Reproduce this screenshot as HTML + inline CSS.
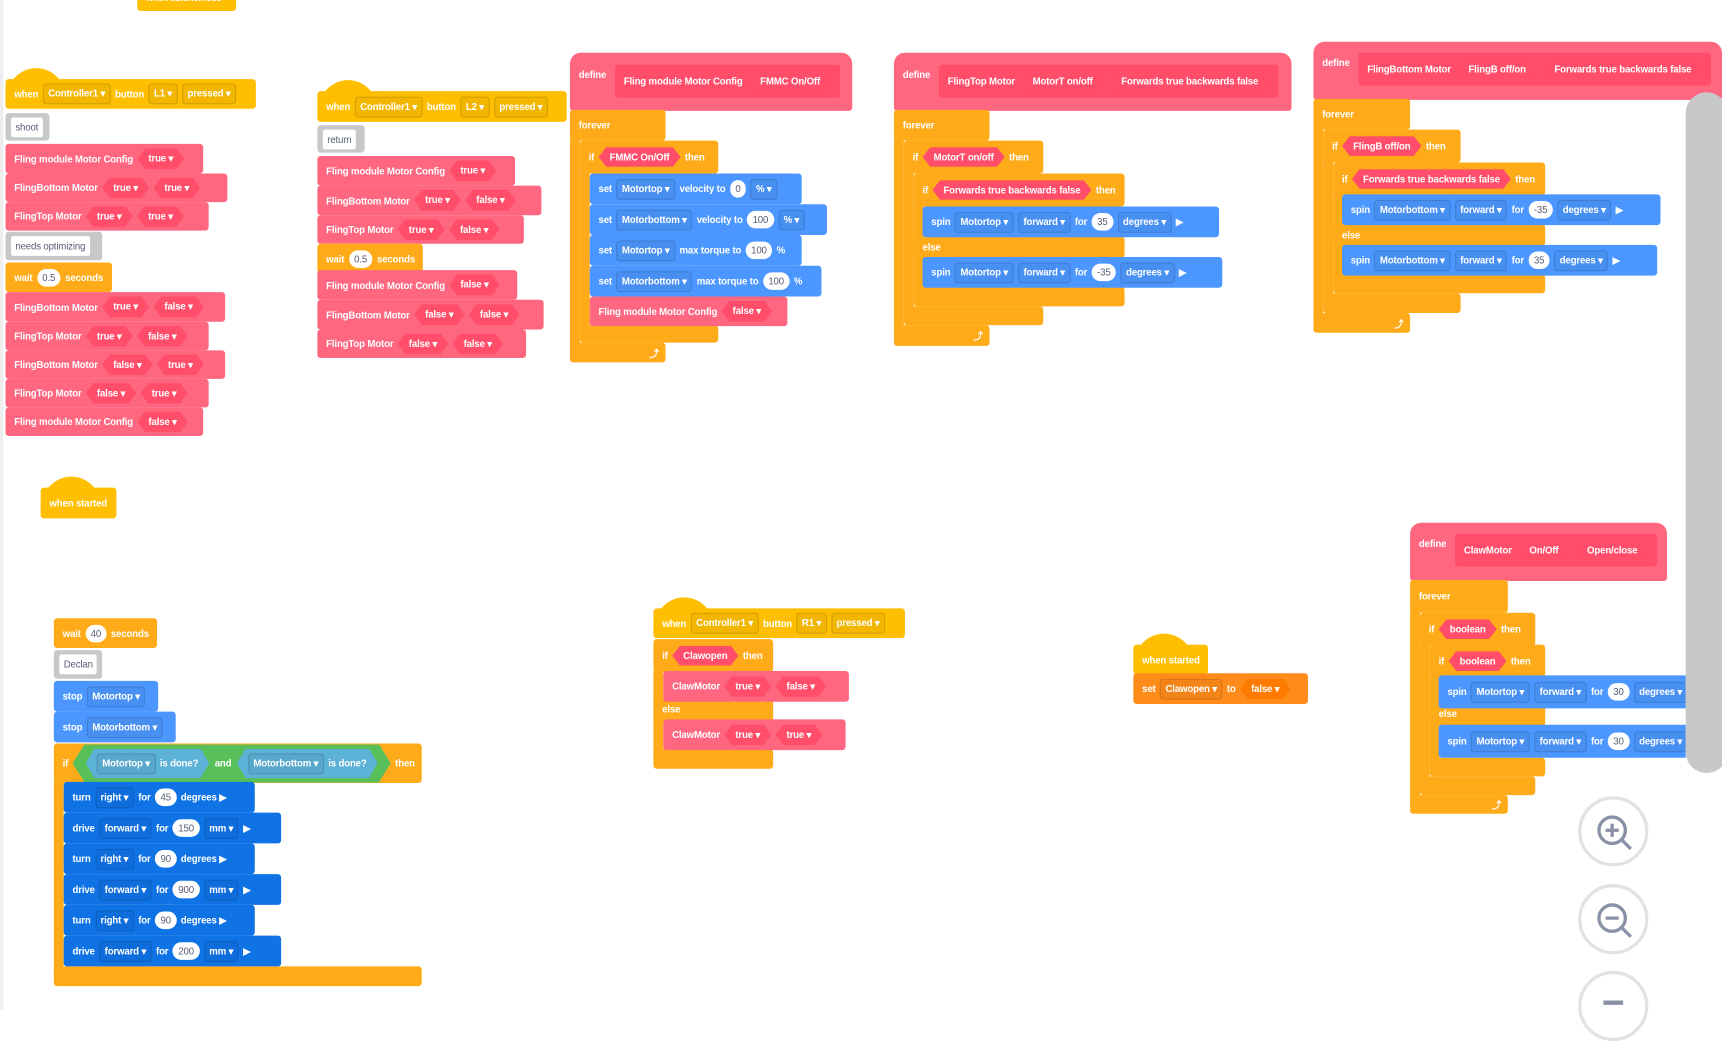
<!DOCTYPE html>
<html><head><meta charset="utf-8"><style>
html,body{margin:0;padding:0;background:#fff;overflow:hidden}
#w{position:absolute;left:0;top:0;width:1568px;height:920px;transform:scale(1.0982);transform-origin:0 0}
.b{position:absolute;display:flex;align-items:center;gap:4px;padding-left:8px;box-sizing:border-box;color:#fff;font:bold 8.8px "Liberation Sans",sans-serif;letter-spacing:-0.15px;white-space:nowrap;border-radius:3px}
.clip{overflow:hidden}
.p{background:#ff6680}.y{background:#ffbf00}.o{background:#ffab19}.bl{background:#4c97ff}.db{background:#0f73e6}.g{background:#c8c8c8}.v{background:#ff8c1a}
.dd{padding:3px 4px;border-radius:3px;border:1px solid rgba(0,0,0,.13);background:rgba(0,0,0,.05)}
.dd:after{content:" \25BE"}
.hx{padding:4px 10px;background:#ff4d6a;clip-path:polygon(7px 0,calc(100% - 7px) 0,100% 50%,calc(100% - 7px) 100%,7px 100%,0 50%)}
.hx.d:after{content:" \25BE"}
.num{background:#fff;color:#575e75;border-radius:10px;padding:3px 5px;font-weight:normal}
.cm{background:#fff;color:#575e75;padding:4px 4px;border-radius:2px;font-weight:normal}
.cap{position:absolute;width:56px;height:30px;border-radius:50% 50% 0 0/100% 100% 0 0}
.in{background:#ff4d6a;height:30px;display:flex;align-items:center;gap:6px;padding:0 8px;border-radius:3px}
.arm{position:absolute}
.circ{position:absolute;width:58px;height:58px;border:3px solid #e2e2e2;border-radius:50%;background:#fff}
</style></head><body><div id="w">
<div style="position:absolute;left:0;top:0;width:3px;height:920px;background:#eee"></div>

<div class="b y" style="left:125px;top:-14px;width:90px;height:24px;font-size:8px">when autonomous</div>

<!-- block 1 -->
<div class="cap y" style="left:5px;top:62px"></div>
<div class="b y" style="left:5px;top:72px;width:228px;height:27px">when <span class="dd">Controller1</span> button <span class="dd">L1</span> <span class="dd">pressed</span></div>
<div class="b g" style="left:5px;top:103px;width:40px;height:25px;padding-left:5px"><span class="cm">shoot</span></div>
<div class="b p" style="left:5px;top:131px;width:180px;height:27px">Fling module Motor Config <span class="hx d">true</span></div>
<div class="b p" style="left:5px;top:158px;width:202px;height:26px">FlingBottom Motor <span class="hx d">true</span><span class="hx d">true</span></div>
<div class="b p" style="left:5px;top:184px;width:185px;height:26px">FlingTop Motor <span class="hx d">true</span><span class="hx d">true</span></div>
<div class="b g" style="left:5px;top:211px;width:88px;height:26px;padding-left:5px"><span class="cm">needs optimizing</span></div>
<div class="b o" style="left:5px;top:239px;width:97px;height:27px">wait <span class="num">0.5</span> seconds</div>
<div class="b p" style="left:5px;top:266px;width:200px;height:27px">FlingBottom Motor <span class="hx d">true</span><span class="hx d">false</span></div>
<div class="b p" style="left:5px;top:293px;width:185px;height:26px">FlingTop Motor <span class="hx d">true</span><span class="hx d">false</span></div>
<div class="b p" style="left:5px;top:319px;width:200px;height:26px">FlingBottom Motor <span class="hx d">false</span><span class="hx d">true</span></div>
<div class="b p" style="left:5px;top:345px;width:185px;height:26px">FlingTop Motor <span class="hx d">false</span><span class="hx d">true</span></div>
<div class="b p" style="left:5px;top:371px;width:180px;height:26px">Fling module Motor Config <span class="hx d">false</span></div>

<!-- block 2 -->
<div class="cap y" style="left:289px;top:73px"></div>
<div class="b y" style="left:289px;top:83px;width:227px;height:28px">when <span class="dd">Controller1</span> button <span class="dd">L2</span> <span class="dd">pressed</span></div>
<div class="b g" style="left:289px;top:114px;width:43px;height:25px;padding-left:5px"><span class="cm">return</span></div>
<div class="b p" style="left:289px;top:142px;width:180px;height:27px">Fling module Motor Config <span class="hx d">true</span></div>
<div class="b p" style="left:289px;top:169px;width:204px;height:27px">FlingBottom Motor <span class="hx d">true</span><span class="hx d">false</span></div>
<div class="b p" style="left:289px;top:196px;width:188px;height:26px">FlingTop Motor <span class="hx d">true</span><span class="hx d">false</span></div>
<div class="b o" style="left:289px;top:222px;width:96px;height:27px">wait <span class="num">0.5</span> seconds</div>
<div class="b p" style="left:289px;top:246px;width:182px;height:27px">Fling module Motor Config <span class="hx d">false</span></div>
<div class="b p" style="left:289px;top:273px;width:206px;height:27px">FlingBottom Motor <span class="hx d">false</span><span class="hx d">false</span></div>
<div class="b p" style="left:289px;top:300px;width:190px;height:26px">FlingTop Motor <span class="hx d">false</span><span class="hx d">false</span></div>

<!-- block 3 -->
<div class="b p" style="left:519px;top:48px;width:257px;height:53px;border-radius:10px 10px 3px 3px;align-items:flex-start;padding-top:15px">define <span class="in" style="margin-left:4px;margin-top:-4px">Fling module Motor Config <span class="hx">FMMC On/Off</span></span></div>
<div class="b o" style="left:519px;top:100px;width:87px;height:28px">forever</div>
<div class="arm o" style="left:519px;top:127px;width:9px;height:190px"></div>
<div class="b o" style="left:519px;top:312px;width:87px;height:18px;justify-content:flex-end;padding-right:6px">⤴</div>
<div class="b o" style="left:528px;top:128px;width:126px;height:30px">if <span class="hx">FMMC On/Off</span> then</div>
<div class="arm o" style="left:528px;top:157px;width:9px;height:150px"></div>
<div class="b o" style="left:528px;top:296px;width:126px;height:16px"></div>
<div class="b bl" style="left:537px;top:158px;width:193px;height:28px">set <span class="dd">Motortop</span> velocity to <span class="num">0</span> <span class="dd">%</span></div>
<div class="b bl" style="left:537px;top:186px;width:216px;height:28px">set <span class="dd">Motorbottom</span> velocity to <span class="num">100</span> <span class="dd">%</span></div>
<div class="b bl" style="left:537px;top:214px;width:193px;height:28px">set <span class="dd">Motortop</span> max torque to <span class="num">100</span> %</div>
<div class="b bl" style="left:537px;top:242px;width:211px;height:28px">set <span class="dd">Motorbottom</span> max torque to <span class="num">100</span> %</div>
<div class="b p" style="left:537px;top:270px;width:180px;height:27px">Fling module Motor Config <span class="hx d">false</span></div>

<!-- block 4 -->
<div class="b p" style="left:814px;top:48px;width:362px;height:53px;border-radius:10px 10px 3px 3px;align-items:flex-start;padding-top:15px">define <span class="in" style="margin-left:4px;margin-top:-4px">FlingTop Motor <span class="hx">MotorT on/off</span><span class="hx">Forwards true backwards false</span></span></div>
<div class="b o" style="left:814px;top:100px;width:87px;height:28px">forever</div>
<div class="arm o" style="left:814px;top:127px;width:9px;height:175px"></div>
<div class="b o" style="left:814px;top:296px;width:87px;height:19px;justify-content:flex-end;padding-right:6px">⤴</div>
<div class="b o" style="left:823px;top:128px;width:127px;height:30px">if <span class="hx">MotorT on/off</span> then</div>
<div class="arm o" style="left:823px;top:157px;width:9px;height:125px"></div>
<div class="b o" style="left:823px;top:279px;width:127px;height:17px"></div>
<div class="b o" style="left:832px;top:158px;width:192px;height:30px">if <span class="hx">Forwards true backwards false</span> then</div>
<div class="arm o" style="left:832px;top:187px;width:9px;height:80px"></div>
<div class="b o" style="left:832px;top:215px;width:192px;height:20px;align-items:flex-start;padding-top:5px">else</div>
<div class="b o" style="left:832px;top:261px;width:192px;height:18px"></div>
<div class="b bl" style="left:840px;top:188px;width:270px;height:28px">spin <span class="dd">Motortop</span> <span class="dd">forward</span> for <span class="num">35</span> <span class="dd">degrees</span> ▶</div>
<div class="b bl" style="left:840px;top:234px;width:273px;height:28px">spin <span class="dd">Motortop</span> <span class="dd">forward</span> for <span class="num">-35</span> <span class="dd">degrees</span> ▶</div>

<!-- block 5 -->
<div class="b p" style="left:1196px;top:38px;width:372px;height:53px;border-radius:10px 10px 3px 3px;align-items:flex-start;padding-top:14px">define <span class="in" style="margin-left:4px;margin-top:-4px">FlingBottom Motor <span class="hx">FlingB off/on</span><span class="hx">Forwards true backwards false</span></span></div>
<div class="b o" style="left:1196px;top:90px;width:88px;height:28px">forever</div>
<div class="arm o" style="left:1196px;top:117px;width:9px;height:175px"></div>
<div class="b o" style="left:1196px;top:285px;width:88px;height:18px;justify-content:flex-end;padding-right:6px">⤴</div>
<div class="b o" style="left:1205px;top:118px;width:125px;height:30px">if <span class="hx">FlingB off/on</span> then</div>
<div class="arm o" style="left:1205px;top:147px;width:9px;height:125px"></div>
<div class="b o" style="left:1205px;top:267px;width:125px;height:18px"></div>
<div class="b o" style="left:1214px;top:148px;width:193px;height:30px">if <span class="hx">Forwards true backwards false</span> then</div>
<div class="arm o" style="left:1214px;top:177px;width:9px;height:80px"></div>
<div class="b o" style="left:1214px;top:204px;width:193px;height:20px;align-items:flex-start;padding-top:5px">else</div>
<div class="b o" style="left:1214px;top:250px;width:193px;height:17px"></div>
<div class="b bl" style="left:1222px;top:177px;width:290px;height:28px">spin <span class="dd">Motorbottom</span> <span class="dd">forward</span> for <span class="num">-35</span> <span class="dd">degrees</span> ▶</div>
<div class="b bl" style="left:1222px;top:223px;width:287px;height:28px">spin <span class="dd">Motorbottom</span> <span class="dd">forward</span> for <span class="num">35</span> <span class="dd">degrees</span> ▶</div>

<!-- when started -->
<div class="cap y" style="left:37px;top:434px"></div>
<div class="b y" style="left:37px;top:444px;width:69px;height:28px">when started</div>

<!-- block 6 -->
<div class="b o" style="left:49px;top:563px;width:94px;height:27px">wait <span class="num">40</span> seconds</div>
<div class="b g" style="left:49px;top:592px;width:44px;height:26px;padding-left:5px"><span class="cm">Declan</span></div>
<div class="b bl" style="left:49px;top:620px;width:95px;height:28px">stop <span class="dd">Motortop</span></div>
<div class="b bl" style="left:49px;top:648px;width:111px;height:28px">stop <span class="dd">Motorbottom</span></div>
<div class="b o" style="left:49px;top:677px;width:335px;height:36px">if
<span style="background:#59c059;padding:4px 12px;display:flex;align-items:center;gap:5px;clip-path:polygon(11px 0,calc(100% - 11px) 0,100% 50%,calc(100% - 11px) 100%,11px 100%,0 50%)">
<span style="background:#5cb1d6;padding:4px 10px;display:flex;gap:4px;align-items:center;clip-path:polygon(8px 0,calc(100% - 8px) 0,100% 50%,calc(100% - 8px) 100%,8px 100%,0 50%)"><span class="dd">Motortop</span> is done?</span> and
<span style="background:#5cb1d6;padding:4px 10px;display:flex;gap:4px;align-items:center;clip-path:polygon(8px 0,calc(100% - 8px) 0,100% 50%,calc(100% - 8px) 100%,8px 100%,0 50%)"><span class="dd">Motorbottom</span> is done?</span></span> then</div>
<div class="arm o" style="left:49px;top:712px;width:9px;height:175px"></div>
<div class="b o" style="left:49px;top:880px;width:335px;height:18px"></div>
<div class="b db" style="left:58px;top:712px;width:174px;height:28px">turn <span class="dd">right</span> for <span class="num">45</span> degrees ▶</div>
<div class="b db" style="left:58px;top:740px;width:198px;height:28px">drive <span class="dd">forward</span> for <span class="num">150</span> <span class="dd">mm</span> ▶</div>
<div class="b db" style="left:58px;top:768px;width:174px;height:28px">turn <span class="dd">right</span> for <span class="num">90</span> degrees ▶</div>
<div class="b db" style="left:58px;top:796px;width:198px;height:28px">drive <span class="dd">forward</span> for <span class="num">900</span> <span class="dd">mm</span> ▶</div>
<div class="b db" style="left:58px;top:824px;width:174px;height:28px">turn <span class="dd">right</span> for <span class="num">90</span> degrees ▶</div>
<div class="b db" style="left:58px;top:852px;width:198px;height:28px">drive <span class="dd">forward</span> for <span class="num">200</span> <span class="dd">mm</span> ▶</div>

<!-- block 7 -->
<div class="cap y" style="left:595px;top:544px"></div>
<div class="b y" style="left:595px;top:554px;width:229px;height:27px">when <span class="dd">Controller1</span> button <span class="dd">R1</span> <span class="dd">pressed</span></div>
<div class="b o" style="left:595px;top:582px;width:109px;height:30px">if <span class="hx">Clawopen</span> then</div>
<div class="arm o" style="left:595px;top:611px;width:9px;height:80px"></div>
<div class="b o" style="left:595px;top:637px;width:109px;height:20px;align-items:flex-start;padding-top:4px">else</div>
<div class="b o" style="left:595px;top:682px;width:109px;height:18px"></div>
<div class="b p" style="left:604px;top:611px;width:169px;height:28px">ClawMotor <span class="hx d">true</span><span class="hx d">false</span></div>
<div class="b p" style="left:604px;top:655px;width:166px;height:28px">ClawMotor <span class="hx d">true</span><span class="hx d">true</span></div>

<!-- block 8 -->
<div class="cap y" style="left:1032px;top:577px"></div>
<div class="b y" style="left:1032px;top:587px;width:68px;height:27px">when started</div>
<div class="b v" style="left:1032px;top:613px;width:159px;height:28px">set <span class="dd">Clawopen</span> to <span class="hx d" style="background:#ff7b00">false</span></div>

<!-- block 9 -->
<div class="b p" style="left:1284px;top:476px;width:234px;height:53px;border-radius:10px 10px 3px 3px;align-items:flex-start;padding-top:14px">define <span class="in" style="margin-left:4px;margin-top:-4px">ClawMotor <span class="hx">On/Off</span><span class="hx">Open/close</span></span></div>
<div class="b o" style="left:1284px;top:528px;width:89px;height:30px">forever</div>
<div class="arm o" style="left:1284px;top:557px;width:9px;height:175px"></div>
<div class="b o" style="left:1284px;top:724px;width:89px;height:17px;justify-content:flex-end;padding-right:6px">⤴</div>
<div class="b o" style="left:1293px;top:558px;width:105px;height:30px">if <span class="hx">boolean</span> then</div>
<div class="arm o" style="left:1293px;top:587px;width:9px;height:125px"></div>
<div class="b o" style="left:1293px;top:707px;width:105px;height:17px"></div>
<div class="b o" style="left:1302px;top:587px;width:105px;height:30px">if <span class="hx">boolean</span> then</div>
<div class="arm o" style="left:1302px;top:616px;width:9px;height:80px"></div>
<div class="b o" style="left:1302px;top:642px;width:105px;height:20px;align-items:flex-start;padding-top:3px">else</div>
<div class="b o" style="left:1302px;top:690px;width:105px;height:17px"></div>
<div class="b bl clip" style="left:1310px;top:615px;width:225px;height:30px;border-radius:3px 0 0 3px">spin <span class="dd">Motortop</span> <span class="dd">forward</span> for <span class="num">30</span> <span class="dd">degrees</span></div>
<div class="b bl clip" style="left:1310px;top:660px;width:225px;height:30px;border-radius:3px 0 0 3px">spin <span class="dd">Motortop</span> <span class="dd">forward</span> for <span class="num">30</span> <span class="dd">degrees</span></div>

<div style="position:absolute;left:1535px;top:84px;width:38px;height:620px;background:#c8c8c8;border-radius:19px"></div>

<div class="circ" style="left:1437px;top:725px"><svg width="58" height="58" viewBox="0 0 58 58"><circle cx="28" cy="28" r="12" fill="none" stroke="#8a90a6" stroke-width="3"/><line x1="37" y1="37" x2="45" y2="45" stroke="#8a90a6" stroke-width="3"/><line x1="22" y1="28" x2="34" y2="28" stroke="#8a90a6" stroke-width="3"/><line x1="28" y1="22" x2="28" y2="34" stroke="#8a90a6" stroke-width="3"/></svg></div>
<div class="circ" style="left:1437px;top:805px"><svg width="58" height="58" viewBox="0 0 58 58"><circle cx="28" cy="28" r="12" fill="none" stroke="#8a90a6" stroke-width="3"/><line x1="37" y1="37" x2="45" y2="45" stroke="#8a90a6" stroke-width="3"/><line x1="22" y1="28" x2="34" y2="28" stroke="#8a90a6" stroke-width="3"/></svg></div>
<div class="circ" style="left:1437px;top:884px"><svg width="58" height="58" viewBox="0 0 58 58"><line x1="20" y1="26" x2="38" y2="26" stroke="#8a90a6" stroke-width="4"/></svg></div>
</div></body></html>
